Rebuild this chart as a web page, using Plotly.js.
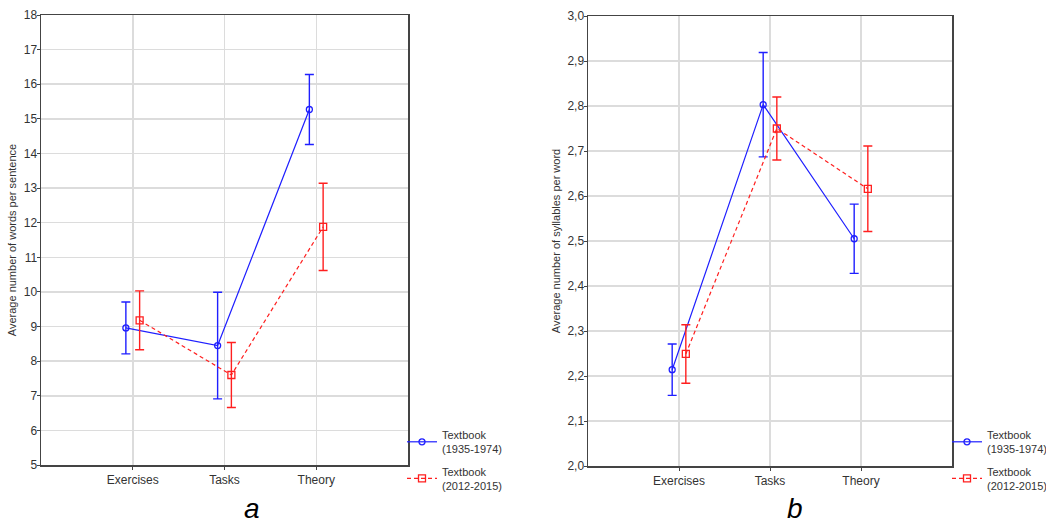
<!DOCTYPE html>
<html>
<head>
<meta charset="utf-8">
<script src="https://cdn.plot.ly/plotly-3.0.1.min.js"></script>
<style>
  html, body { margin: 0; padding: 0; background: #fff; overflow: hidden; }
  #chart { width: 1046px; height: 526px; }
</style>
</head>
<body>
<div id="chart"></div>
<script>
// ---- data ----
const categories = ["Exercises", "Tasks", "Theory"];
const seriesNames = ["Textbook<br>(1935-1974)", "Textbook<br>(2012-2015)"];

// (a) Average number of words per sentence
const wordsOld = [8.96, 8.45, 15.27];
const wordsOldErr = [0.75, 1.54, 1.01];
const wordsNew = [9.18, 7.60, 11.88];
const wordsNewErr = [0.85, 0.94, 1.26];

// (b) Average number of syllables per word
const sylOld = [2.214, 2.803, 2.505];
const sylOldErr = [0.057, 0.116, 0.077];
const sylNew = [2.249, 2.750, 2.616];
const sylNewErr = [0.065, 0.070, 0.095];

const blue = "#1f1fff";
const red = "#ff1f1f";
const offset = 0.075;
const fontFam = "'Liberation Sans Narrow', 'Liberation Sans', Arial, sans-serif";

function xs(sign) { return categories.map((c, i) => i + sign * offset); }

function trace(y, err, isOld, xa, ya, legend) {
  const col = isOld ? blue : red;
  return {
    type: "scatter", mode: "lines+markers",
    x: xs(isOld ? -1 : 1), y: y,
    xaxis: xa, yaxis: ya, legend: legend,
    name: isOld ? seriesNames[0] : seriesNames[1],
    legendgroup: (isOld ? "old" : "new") + legend,
    showlegend: true,
    line: { color: col, width: 1.2, dash: isOld ? "solid" : "4px,3px" },
    marker: { color: col, size: isOld ? 6 : 7, symbol: isOld ? "circle-open" : "square-open", line: { color: col, width: 1.3 } },
    error_y: { type: "data", array: err, visible: true, color: col, thickness: 1.4, width: 4.5 },
    hoverinfo: "x+y"
  };
}

const data = [
  trace(wordsOld, wordsOldErr, true, "x", "y", "legend"),
  trace(wordsNew, wordsNewErr, false, "x", "y", "legend"),
  trace(sylOld, sylOldErr, true, "x2", "y2", "legend2"),
  trace(sylNew, sylNewErr, false, "x2", "y2", "legend2")
];

const W = 1046, H = 526;
const px = v => v / W, py = v => 1 - v / H;

const axisCommon = {
  showline: true, mirror: true, linecolor: "#444", linewidth: 1.5,
  gridcolor: "#dcdcdc", gridwidth: 1.5, zeroline: false,
  tickfont: { family: fontFam, size: 12, color: "#333" },
  ticks: "outside", ticklen: 3, tickcolor: "#444",
  automargin: false
};

const xCommon = Object.assign({}, axisCommon, {
  range: [-1, 3], tickmode: "array",
  tickvals: categories.map((c, i) => i), ticktext: categories,
  ticklen: 3
});

const titleFont = { family: "'Liberation Sans', Arial, sans-serif", size: 11, color: "#333" };

const legendCommon = {
  font: { family: fontFam, size: 11, color: "#333" },
  bgcolor: "rgba(0,0,0,0)", borderwidth: 0,
  tracegroupgap: 5, itemwidth: 30,
  xanchor: "left", yanchor: "top"
};

const layout = {
  width: W, height: H,
  margin: { l: 0, r: 0, t: 0, b: 0, autoexpand: false },
  paper_bgcolor: "#fff", plot_bgcolor: "#fff",
  separators: ",.",
  showlegend: true,
  xaxis: Object.assign({}, xCommon, { domain: [px(41), px(408)], anchor: "y" }),
  yaxis: Object.assign({}, axisCommon, {
    domain: [py(465), py(15)], anchor: "x", range: [5, 18], dtick: 1,
    ticklabelstandoff: -3,
    title: { text: "Average number of words per sentence", font: titleFont, standoff: 5 }
  }),
  xaxis2: Object.assign({}, xCommon, { domain: [px(588), px(952)], anchor: "y2" }),
  yaxis2: Object.assign({}, axisCommon, {
    domain: [py(466), py(16)], anchor: "x2", range: [2, 3], dtick: 0.1, tickformat: ".1f",
    ticklabelstandoff: -3,
    title: { text: "Average number of syllables per word", font: titleFont, standoff: 4 }
  }),
  legend: Object.assign({}, legendCommon, { x: px(402), y: py(421) }),
  legend2: Object.assign({}, legendCommon, { x: px(947), y: py(421) }),
  annotations: [
    { text: "<i>a</i>", xref: "paper", yref: "paper", x: px(252), y: 0, xanchor: "center", yanchor: "bottom", showarrow: false,
      font: { family: "'Liberation Sans', Arial, sans-serif", size: 28, color: "#000" } },
    { text: "<i>b</i>", xref: "paper", yref: "paper", x: px(795), y: 0, xanchor: "center", yanchor: "bottom", showarrow: false,
      font: { family: "'Liberation Sans', Arial, sans-serif", size: 28, color: "#000" } }
  ]
};

Plotly.newPlot("chart", data, layout, { displayModeBar: false, staticPlot: true });
</script>
</body>
</html>
